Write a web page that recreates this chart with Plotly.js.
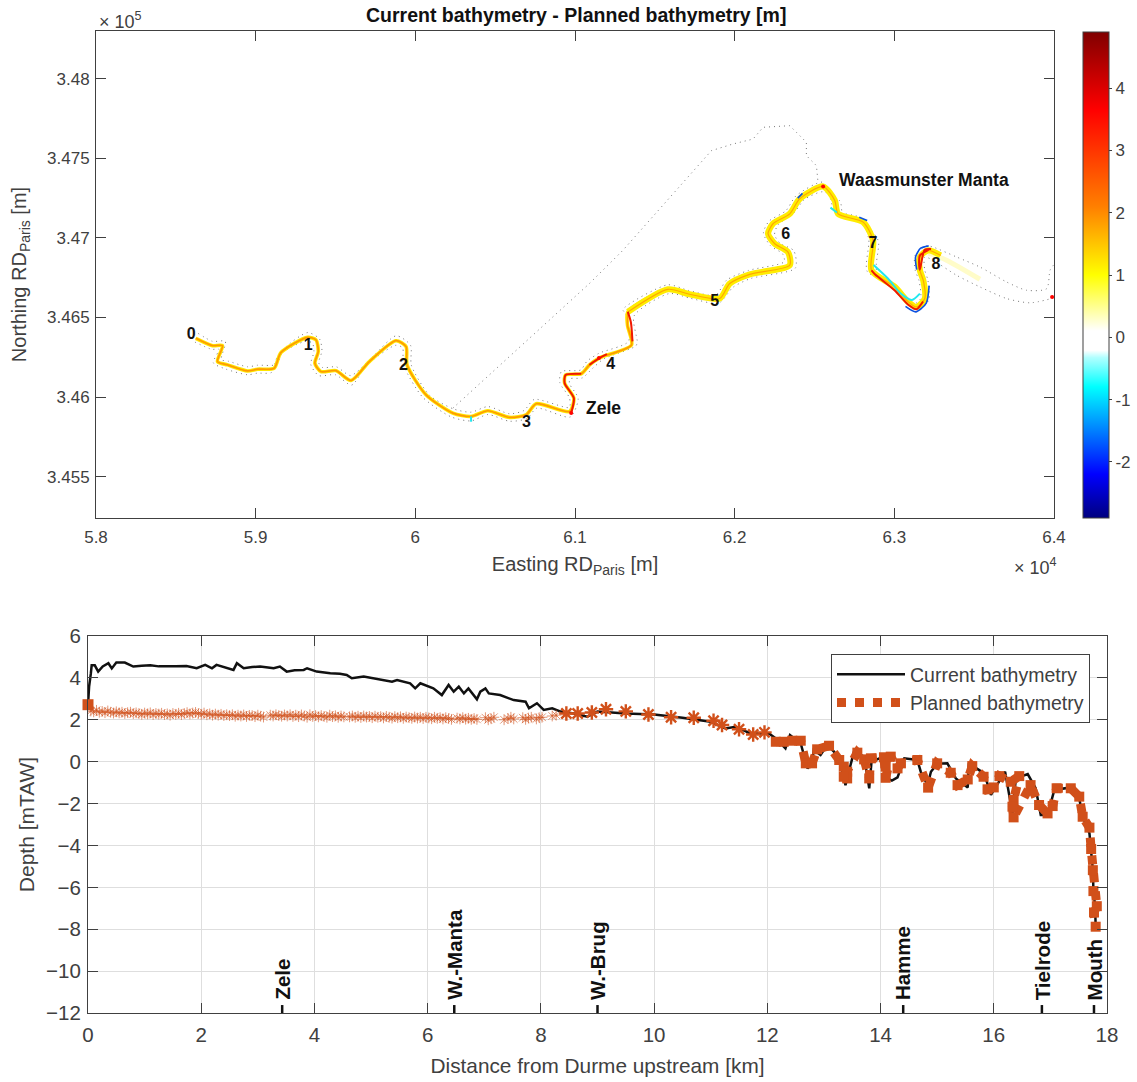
<!DOCTYPE html>
<html><head><meta charset="utf-8">
<script src="https://cdn.plot.ly/plotly-3.0.1.min.js"></script>
<style>html,body{margin:0;padding:0;background:#fff}</style></head>
<body><div id="chart" style="width:1137px;height:1082px"></div>
<script>
// ---- Top panel: river course in RD Paris coordinates [m]
const riverE = [58625,58730,58792,58761,58824,58949,59012,59116,59158,59325,59378,59392,59371,59409,59503,59597,59712,59879,59942,59948,60067,60235,60349,60454,60590,60694,60757,60966,60993,60935,60941,61039,61091,61154,61354,61329,61331,61582,61718,61906,61969,62094,62345,62334,62251,62209,62240,62345,62407,62554,62627,62648,62805,62867,62857,63003,63087,63139,63191,63181,63160,63160,63212];
const riverN = [346369,346323,346323,346223,346202,346164,346175,346181,346279,346375,346359,346286,346212,346160,346166,346104,346223,346354,346317,346202,346014,345899,345878,345914,345872,345889,345958,345909,345993,346087,346139,346146,346202,346246,346327,346450,346535,346677,346646,346619,346713,346771,346828,346911,346963,347026,347089,347151,347245,347323,347235,347151,347099,346984,346796,346692,346598,346566,346619,346734,346796,346880,346922];
const wideE = [61331,61582,61718,61906,61969,62094,62345,62334,62251,62209,62240,62345,62407,62554,62627,62648,62805,62867,62857,63003,63087,63139,63191,63181,63160,63160,63212,63290];
const wideN = [346535,346677,346646,346619,346713,346771,346828,346911,346963,347026,347089,347151,347245,347323,347235,347151,347099,346984,346796,346692,346598,346566,346619,346734,346796,346880,346922,346890];
const paleE = [63212,63327,63536];
const paleN = [346905,346860,346740];
const redE = [60976,60993,60935,60941,61039,null,61090,61154,61200,null,62857,62880,63003,63087,63139,63180,null,63215,63160,63155,63160,63190,63230,null,61331,61350,61360];
const redN = [345899,345993,346087,346139,346146,null,346202,346246,346270,null,346796,346770,346670,346580,346552,346600,null,346925,346890,346850,346800,346925,346930,null,346535,346470,346350];
const blueE = [63070,63135,63200,63218,null,63140,63133,63165,63215,null,62780,62830,null,62395,62425];
const blueN = [346570,346535,346590,346700,null,346800,346880,346935,346950,null,347130,347110,null,347250,347280];
const cyanE = [62870,62960,63040,63110,63160,null,60349,60349,null,62600,62640];
const cyanN = [346830,346745,346650,346610,346650,null,345878,345845,null,347190,347160];
const northE = [58640,58730,58810,58785,58830,58950,59010,59130,59175,59325,59400,59415,59395,59420,59505,59595,59725,59880,59970,59975,60090,60240,60349,60454,60590,60680,60745,60965,60965,60905,60915,61035,61075,61150,61335,61320,61300,61580,61710,61880,61950,62085,62310,62300,62225,62180,62215,62320,62385,62550,62600,62625,62790,62840,62830,62980,63070,63135,63165,63155,63130,63130,63200,63243,63390,63536,63703,63829,63954,63975,63996];
const northN = [346400,346350,346350,346235,346225,346190,346200,346205,346300,346405,346365,346290,346215,346185,346190,346135,346245,346385,346325,346200,346010,345925,345905,345940,345895,345915,345985,345935,345995,346090,346160,346170,346225,346275,346350,346520,346550,346705,346670,346640,346735,346795,346850,346900,346950,347030,347105,347170,347265,347350,347245,347170,347125,346990,346790,346710,346620,346590,346620,346730,346800,346890,346950,346942,346880,346817,346723,346671,346681,346796,346828];
const southE = [58620,58725,58770,58735,58815,58950,59010,59100,59140,59310,59355,59365,59345,59395,59500,59600,59695,59875,59920,59925,60045,60225,60349,60454,60590,60700,60760,60970,61020,60965,60970,61045,61110,61180,61380,61390,61370,61590,61725,61900,61990,62100,62380,62370,62285,62250,62270,62375,62435,62554,62660,62680,62830,62900,62890,63025,63100,63140,63215,63210,63190,63190,63243,63390,63536,63703,63850,63985];
const southN = [346345,346300,346300,346215,346175,346140,346150,346155,346260,346350,346340,346285,346205,346135,346140,346075,346200,346325,346310,346205,346000,345875,345850,345890,345848,345865,345930,345875,345990,346085,346115,346120,346180,346240,346320,346345,346510,346650,346620,346590,346690,346745,346810,346920,346965,347020,347080,347160,347240,347290,347230,347135,347075,346980,346790,346670,346570,346535,346610,346735,346800,346880,346859,346765,346692,346619,346592,346619];
const linkE = [60235,61091,61300,61530,61801,61854,61989,62115,62178,62345,62387,62449,62449,62512,62522];
const linkN = [345930,346714,346922,347183,347486,347548,347590,347621,347695,347705,347663,347601,347517,347454,347350];
const markE = [60976,62554,63988,61150];
const markN = [345899,347323,346628,346246];
const markDiff = [3.6,3.6,3.6,3.6];
const stationNames = ['0','1','2','3','4','5','6','7','8','9','Zele','Waasmunster Manta'];
const stationE = [58596,59329,59925,60696,61223,61875,62320,62866,63261,64069,61179,63185];
const stationN = [346390,346321,346195,345838,346202,346596,347016,346960,346828,346609,345920,347355];
const eastTicks = [58000,59000,60000,61000,62000,63000,64000];
const eastLabels = ['5.8','5.9','6','6.1','6.2','6.3','6.4'];
const northTicks = [345500,346000,346500,347000,347500,348000];
const northLabels = ['3.455','3.46','3.465','3.47','3.475','3.48'];
const diffColors = [[0,'#00007f'],[0.09,'#0000ff'],[0.18,'#0080ff'],[0.27,'#00ffff'],[0.33,'#b0ffff'],[0.345,'#ffffff'],[0.385,'#ffffff'],[0.50,'#ffff00'],[0.64,'#ff8000'],[0.84,'#ff0000'],[1,'#800000']];

// ---- Bottom panel: longitudinal depth profile
const currentKm = [0,0.02,0.05,0.065,0.12,0.18,0.26,0.36,0.42,0.5,0.65,0.8,0.95,1.1,1.25,1.39,1.55,1.74,1.92,2.07,2.19,2.27,2.45,2.57,2.63,2.75,2.9,3.04,3.18,3.28,3.39,3.51,3.65,3.81,3.87,4.04,4.28,4.45,4.57,4.66,4.87,5.16,5.37,5.46,5.69,5.78,5.87,6.1,6.25,6.37,6.46,6.55,6.64,6.72,6.87,6.93,7.02,7.08,7.28,7.52,7.73,7.79,7.93,8.05,8.2,8.35,8.58,8.82,9,9.5,10,10.5,10.82,11,11.26,11.44,11.7,12.03,12.15,12.32,12.4,12.59,12.71,12.79,12.82,12.94,13.06,13.18,13.3,13.38,13.47,13.53,13.71,13.8,13.84,14.06,14.09,14.2,14.3,14.42,14.65,14.71,14.83,14.89,15,15.18,15.33,15.54,15.56,15.83,15.95,16.2,16.33,16.39,16.6,16.74,16.83,16.95,17.07,17.36,17.51,17.57,17.69,17.72,17.75,17.76,17.79,17.8];
const currentDepth = [2.7,3.6,4.2,4.6,4.6,4.3,4.55,4.7,4.45,4.73,4.73,4.54,4.58,4.6,4.55,4.54,4.56,4.57,4.46,4.62,4.46,4.62,4.46,4.38,4.7,4.46,4.52,4.54,4.5,4.46,4.54,4.3,4.36,4.38,4.46,4.3,4.22,4.2,4.14,3.98,4.06,3.9,3.82,3.9,3.74,3.5,3.74,3.5,3.18,3.66,3.34,3.58,3.26,3.5,2.98,3.34,3.5,3.26,3.18,2.94,2.86,2.55,2.79,2.47,2.55,2.39,2.3,2.15,2.39,2.3,2.25,2.1,1.99,1.91,1.59,1.67,1.35,1.35,1.11,0.63,1.27,0.87,-0.32,-0.08,0.56,0.32,0.8,0.47,-0.16,-1.12,-0.16,0.47,0.24,-1.27,0,0.24,-0.75,-0.9,-0.75,0.16,0.08,-0.48,-1.12,-0.48,-0.1,-0.08,-0.8,-1.23,-0.08,-0.56,-1.59,-0.48,-2.47,-0.8,-0.59,-1.27,-2.55,-2.55,-1.35,-1.23,-1.75,-2.63,-3.42,-4.22,-5.18,-6.13,-6.93,-7.88];
const plannedLeftKm = [0.05,0.1,0.15,0.2,0.25,0.3,0.35,0.4,0.45,0.5,0.55,0.6,0.65,0.7,0.75,0.8,0.85,0.9,0.95,1,1.05,1.1,1.15,1.2,1.25,1.3,1.35,1.4,1.45,1.5,1.55,1.6,1.65,1.7,1.75,1.8,1.85,1.9,1.95,2,2.05,2.1,2.15,2.2,2.25,2.3,2.35,2.4,2.45,2.5,2.55,2.6,2.65,2.7,2.75,2.8,2.85,2.9,2.95,3,3.05,3.1,3.22,3.27,3.32,3.37,3.42,3.47,3.52,3.57,3.62,3.67,3.72,3.77,3.82,3.87,3.92,3.97,4.02,4.07,4.12,4.17,4.22,4.27,4.32,4.37,4.42,4.47,4.52,4.62,4.67,4.72,4.77,4.82,4.87,4.92,4.97,5.02,5.07,5.12,5.17,5.22,5.27,5.32,5.37,5.42,5.47,5.52,5.57,5.62,5.67,5.72,5.77,5.82,5.87,5.92,5.97,6.02,6.07,6.12,6.17,6.22,6.27,6.32,6.37,6.42,6.52,6.57,6.62,6.67,6.72,6.77,6.82,6.87,7.02,7.07,7.12,7.17,7.35,7.42,7.47,7.52,7.68,7.73,7.78,7.83,7.92,7.97,8.02,8.2,8.27,8.32];
const plannedLeftDepth = [2.42,2.38,2.45,2.36,2.4,2.34,2.42,2.36,2.32,2.38,2.33,2.36,2.3,2.34,2.36,2.29,2.33,2.3,2.26,2.32,2.28,2.33,2.25,2.3,2.27,2.31,2.25,2.28,2.22,2.3,2.26,2.31,2.25,2.3,2.34,2.28,2.32,2.35,2.3,2.26,2.32,2.24,2.28,2.22,2.27,2.22,2.26,2.2,2.24,2.2,2.24,2.17,2.22,2.18,2.23,2.16,2.21,2.2,2.15,2.22,2.17,2.13,2.22,2.18,2.24,2.2,2.17,2.23,2.18,2.24,2.16,2.22,2.15,2.23,2.18,2.12,2.24,2.16,2.2,2.14,2.2,2.16,2.12,2.22,2.15,2.19,2.12,2.18,2.14,2.14,2.18,2.12,2.17,2.11,2.18,2.13,2.16,2.1,2.17,2.12,2.15,2.09,2.16,2.12,2.08,2.15,2.1,2.14,2.07,2.13,2.1,2.07,2.13,2.08,2.12,2.06,2.12,2.09,2.05,2.12,2.07,2.1,2.04,2.1,2.06,2.02,2.08,2.04,2.1,2.03,2.07,2.02,2.06,2.02,2.1,2,2.05,2.12,2.0,2.06,2.12,2.04,2.1,2.02,2.08,2.12,2.04,2.1,2.12,2.18,2.22];
const plannedMidKm = [8.45,8.65,8.9,9.15,9.5,9.9,10.3,10.7,11.05,11.2,11.5,11.75,11.95];
const plannedMidDepth = [2.3,2.3,2.35,2.5,2.4,2.25,2.12,2.1,1.95,1.75,1.55,1.3,1.4];
const plannedKm = [12.15,12.29,12.44,12.59,12.68,12.79,12.88,13.09,13.27,13.35,13.41,13.41,13.35,13.59,13.71,13.8,13.83,14.06,14.09,14.09,14.18,14.3,14.36,14.65,14.84,15,15.24,15.36,15.54,15.62,15.82,15.89,16,16.1,16.3,16.45,16.35,16.33,16.35,16.65,16.8,16.95,17.04,17.11,17.36,17.51,17.57,17.69,17.72,17.75,17.76,17.82,17.77,17.8];
const plannedDepth = [0.95,0.95,1,1,-0.08,-0.08,0.59,0.76,0.08,-0.24,-0.48,-0.8,-0.72,0.43,0.11,-0.8,0.16,0.21,-0.24,-0.77,0.24,-0.32,-0.08,0.08,-1.24,-0.08,-0.53,-1.12,-0.85,-0.21,-0.72,-1.32,-1.23,-0.69,-0.96,-0.69,-1.83,-2.15,-2.66,-1.12,-2.07,-2.47,-2.12,-1.27,-1.27,-1.67,-2.63,-3.15,-4.17,-5.18,-6.18,-6.9,-7.2,-7.88];
const plannedStartKm = [0.0];
const plannedStartDepth = [2.72];
const placeNames = ['Zele','W.-Manta','W.-Brug','Hamme','Tielrode','Mouth'];
const placeKm = [3.43,6.47,9,14.4,16.85,17.77];
const kmTicks = [0,2,4,6,8,10,12,14,16,18];
const depthTicks = [-12,-10,-8,-6,-4,-2,0,2,4,6];

const W = 1137, H = 1082;
const FONT = '"Liberation Sans", Arial, sans-serif';
const INK = '#404040', ORANGE = '#D1501A';
const dx = (a,b)=>[a/W,b/W], dy = (top,bot)=>[(H-bot)/H,(H-top)/H];
const dots = {color:'#777',width:1,dash:'1px,4px',shape:'spline',smoothing:0.7};
const topLine = (x,y,line)=>({x,y,type:'scatter',mode:'lines',line:Object.assign({shape:'spline',smoothing:0.7},line),xaxis:'x',yaxis:'y',showlegend:false,hoverinfo:'skip',connectgaps:false});

const placeTickKm = [], placeTickDepth = [];
placeKm.forEach(k=>{placeTickKm.push(k,k,null);placeTickDepth.push(-12,-11.62,null);});

const data = [
  topLine(linkE,linkN,Object.assign({},dots,{shape:'linear'})), topLine(northE,northN,dots), topLine(southE,southN,dots),
  topLine(paleE,paleN,{color:'#fffcc8',width:5}),
  topLine(riverE,riverN,{color:'#ffe600',width:3.6}),
  topLine(wideE,wideN,{color:'#ffec00',width:6.2}),
  topLine(riverE.slice(0,37),riverN.slice(0,37),{color:'#ff9a00',width:1.7}),
  topLine(wideE,wideN,{color:'#ffa800',width:1.2}),
  topLine(cyanE,cyanN,{color:'#20e8f0',width:2}),
  topLine(blueE,blueN,{color:'#0a50e0',width:1.6}),
  topLine(redE,redN,{color:'#f01800',width:2}),
  {x:markE,y:markN,type:'scatter',mode:'markers',xaxis:'x',yaxis:'y',showlegend:false,hoverinfo:'skip',
   marker:{size:4,color:markDiff,colorscale:diffColors,cmin:-2.9,cmax:4.9,showscale:true,
    colorbar:{thickness:26,thicknessmode:'pixels',len:486,lenmode:'pixels',x:1083/W,xanchor:'left',xpad:0,ypad:0,
     y:(H-275)/H,yanchor:'middle',tickvals:[-2,-1,0,1,2,3,4],ticktext:['-2','-1','0','1','2','3','4'],ticks:'outside',ticklen:3,
     tickcolor:INK,outlinecolor:INK,outlinewidth:1,tickfont:{family:FONT,size:17,color:INK},ticklabelposition:'outside'}}},
  {x:stationE.slice(0,10),y:stationN.slice(0,10),text:stationNames.slice(0,10),type:'scatter',mode:'text',xaxis:'x',yaxis:'y',showlegend:false,hoverinfo:'skip',
   textfont:{family:FONT,size:16,color:'#111'},texttemplate:'<b>%{text}</b>'},
  {x:stationE.slice(10),y:stationN.slice(10),text:stationNames.slice(10),type:'scatter',mode:'text',xaxis:'x',yaxis:'y',showlegend:false,hoverinfo:'skip',
   textfont:{family:FONT,size:17.5,color:'#111'},texttemplate:'<b>%{text}</b>'},
  {x:currentKm,y:currentDepth,type:'scatter',mode:'lines',name:'Current bathymetry',xaxis:'x2',yaxis:'y2',line:{color:'#111',width:2.5}},
  {x:plannedLeftKm,y:plannedLeftDepth,type:'scatter',mode:'markers',xaxis:'x2',yaxis:'y2',showlegend:false,
   marker:{symbol:'asterisk-open',size:9,color:ORANGE,opacity:0.6,line:{color:ORANGE,width:1}}},
  {x:plannedMidKm,y:plannedMidDepth,type:'scatter',mode:'markers',xaxis:'x2',yaxis:'y2',showlegend:false,
   marker:{symbol:'asterisk-open',size:12,color:ORANGE,line:{color:ORANGE,width:2.4}}},
  {x:plannedStartKm,y:plannedStartDepth,type:'scatter',mode:'markers',xaxis:'x2',yaxis:'y2',showlegend:false,cliponaxis:false,
   marker:{symbol:'square',size:11,color:ORANGE}},
  {x:plannedKm,y:plannedDepth,type:'scatter',mode:'lines',name:'Planned bathymetry',xaxis:'x2',yaxis:'y2',line:{color:ORANGE,width:9,dash:'9px,9px'}},
  {x:plannedKm,y:plannedDepth,type:'scatter',mode:'markers',xaxis:'x2',yaxis:'y2',showlegend:false,cliponaxis:false,
   marker:{symbol:'square',size:10,color:ORANGE}},
  {x:placeTickKm,y:placeTickDepth,type:'scatter',mode:'lines',xaxis:'x2',yaxis:'y2',showlegend:false,line:{color:'#111',width:2.5}}
];

const axis = (extra)=>Object.assign({showline:true,linecolor:INK,linewidth:1,mirror:'ticks',ticks:'inside',ticklen:10,tickcolor:INK,tickwidth:1,zeroline:false,automargin:false},extra);

const layout = {
  width:W,height:H,margin:{l:0,r:0,t:0,b:0,autoexpand:false},paper_bgcolor:'#fff',plot_bgcolor:'#fff',
  font:{family:FONT,color:INK},
  xaxis:axis({domain:dx(96,1054),anchor:'y',range:[58000,64000],tickvals:eastTicks,ticktext:eastLabels,showgrid:false,tickfont:{size:17,color:INK},ticklabelstandoff:4,
    title:{text:'Easting RD<sub>Paris</sub> [m]',font:{size:20,color:INK},standoff:10}}),
  yaxis:axis({domain:dy(31,518),anchor:'x',range:[345240,348300],tickvals:northTicks,ticktext:northLabels,showgrid:false,tickfont:{size:17,color:INK},ticklabelstandoff:2,
    title:{text:'Northing RD<sub>Paris</sub> [m]',font:{size:20,color:INK},standoff:15}}),
  xaxis2:axis({domain:dx(88,1107),anchor:'y2',range:[0,18],tickvals:kmTicks,showgrid:true,gridcolor:'#dedede',tickfont:{size:20.5,color:INK},ticklabelstandoff:3,
    title:{text:'Distance from Durme upstream [km]',font:{size:20.8,color:INK},standoff:13}}),
  yaxis2:axis({domain:dy(636,1013),anchor:'x2',range:[-12,6],tickvals:depthTicks,showgrid:true,gridcolor:'#dedede',tickfont:{size:20.5,color:INK},ticklabelstandoff:2,
    title:{text:'Depth [mTAW]',font:{size:21,color:INK},standoff:5}}),
  legend:{x:831/W,xanchor:'left',y:(H-654)/H,yanchor:'top',bgcolor:'#fff',bordercolor:INK,borderwidth:1,font:{family:FONT,size:19.5,color:INK},itemwidth:68,tracegroupgap:0},
  annotations:[
    {xref:'paper',yref:'paper',x:576/W,y:(H-15)/H,xanchor:'center',yanchor:'middle',showarrow:false,text:'<b>Current bathymetry - Planned bathymetry [m]</b>',font:{family:FONT,size:19.5,color:'#111'}},
    {xref:'paper',yref:'paper',x:97/W,y:(H-34)/H,xanchor:'left',yanchor:'bottom',showarrow:false,xshift:0,text:'× 10<sup>5</sup>',font:{family:FONT,size:18,color:INK}},
    {xref:'paper',yref:'paper',x:1012/W,y:(H-580)/H,xanchor:'left',yanchor:'bottom',showarrow:false,text:'× 10<sup>4</sup>',font:{family:FONT,size:18,color:INK}},
    ...placeNames.map((t,i)=>({xref:'x2',yref:'y2',x:placeKm[i],y:-11.47,xanchor:'center',yanchor:'bottom',showarrow:false,textangle:-90,text:'<b>'+t+'</b>',font:{family:FONT,size:20.5,color:'#111'}}))
  ]
};
Plotly.newPlot('chart',data,layout,{displayModeBar:false,responsive:false});
</script></body></html>
